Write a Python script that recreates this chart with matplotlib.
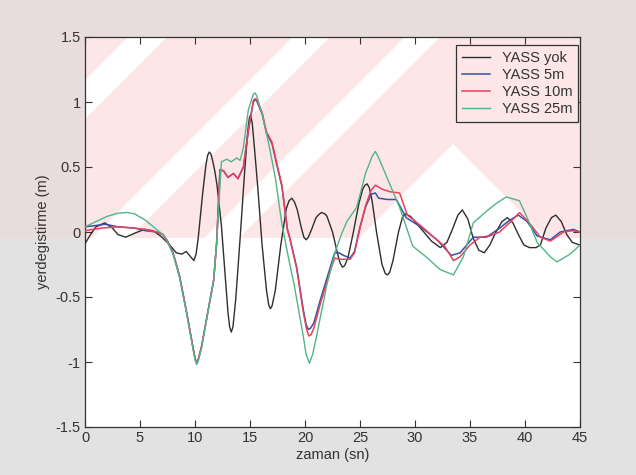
import matplotlib
matplotlib.use("Agg")
import matplotlib.pyplot as plt
from matplotlib.patches import Polygon, Rectangle
from matplotlib.ticker import FixedLocator, FixedFormatter

plt.rcParams['font.family'] = ['Liberation Sans', 'DejaVu Sans']

# ---------------- data ----------------
t_yok = [0, 0.5, 1.0, 1.8, 2.5, 3.0, 3.7, 4.5, 5.4, 6.2, 7.0, 7.7, 8.3, 8.8, 9.2, 9.6, 9.9,
         10.1, 10.3, 10.5, 10.7, 11.0, 11.15, 11.3, 11.45, 11.6, 11.8, 12.0, 12.4, 12.8, 13.0,
         13.15, 13.3, 13.45, 13.7, 14.1, 14.5, 14.8, 14.95, 15.05, 15.2, 15.4, 15.7, 16.1,
         16.5, 16.7, 16.85, 17.0, 17.3, 17.8, 18.3, 18.55, 18.8, 19.05, 19.3, 19.7, 19.9, 20.1,
         20.3, 20.6, 21.0, 21.2, 21.5, 21.8, 22.0, 22.5, 23.0, 23.2, 23.4, 23.6, 23.9, 24.4,
         24.9, 25.25, 25.45, 25.65, 25.85, 26.1, 26.5, 27.0, 27.3, 27.5, 27.7, 28.0, 28.5,
         28.85, 29.1, 29.6, 30.2, 30.8, 31.5, 32.3, 32.9, 33.4, 33.9, 34.3, 34.8, 35.3, 35.8,
         36.3, 36.8, 37.3, 37.9, 38.4, 38.9, 39.4, 39.9, 40.4, 41.0, 41.4, 41.9, 42.4, 42.8,
         43.3, 43.8, 44.3, 45.0]
y_yok = [-0.09, -0.02, 0.04, 0.07, 0.03, -0.02, -0.04, -0.01, 0.02, 0.01, -0.04, -0.10, -0.16,
         -0.17, -0.15, -0.19, -0.22, -0.17, -0.04, 0.13, 0.30, 0.52, 0.59, 0.615, 0.60, 0.55,
         0.47, 0.36, 0.05, -0.40, -0.62, -0.73, -0.77, -0.73, -0.52, -0.05, 0.45, 0.78, 0.88,
         0.90, 0.84, 0.65, 0.35, -0.10, -0.45, -0.56, -0.59, -0.57, -0.45, -0.10, 0.18, 0.24,
         0.26, 0.23, 0.17, 0.02, -0.04, -0.06, -0.04, 0.02, 0.11, 0.13, 0.15, 0.14, 0.12, 0.00,
         -0.18, -0.24, -0.27, -0.26, -0.20, 0.00, 0.22, 0.33, 0.36, 0.37, 0.34, 0.24, 0.00,
         -0.25, -0.32, -0.33, -0.31, -0.22, 0.00, 0.11, 0.14, 0.12, 0.06, 0.00, -0.07, -0.12,
         -0.08, 0.02, 0.13, 0.17, 0.10, -0.05, -0.14, -0.16, -0.10, -0.01, 0.08, 0.11, 0.07,
         -0.02, -0.10, -0.12, -0.12, -0.10, 0.03, 0.11, 0.13, 0.08, -0.02, -0.08, -0.10]

t_5m = [0, 1.0, 1.8, 3.0, 4.5, 5.5, 6.5, 7.1, 7.5, 8.0, 8.6, 9.2, 9.8, 10.0, 10.15, 10.3, 10.6,
        11.2, 11.7, 11.97, 12.27, 12.6, 13.0, 13.5, 13.9, 14.4, 14.85, 15.3, 15.45, 15.6, 16.1,
        16.5, 17.0, 17.4, 17.9, 18.4, 18.6, 19.24, 19.85, 20.1, 20.3, 20.5, 20.8, 21.4, 22.3,
        22.7, 23.1, 23.5, 24.1, 24.5, 25.0, 25.5, 26.0, 26.4, 26.7, 27.5, 28.3, 29.2, 30.5,
        32.0, 33.3, 34.1, 35.3, 36.5, 37.7, 38.6, 39.4, 40.2, 41.1, 42.3, 43.2, 44.4, 45.0]
y_5m = [0.04, 0.05, 0.06, 0.04, 0.03, 0.01, 0.00, -0.02, -0.07, -0.16, -0.34, -0.60, -0.88,
        -0.97, -1.01, -0.98, -0.88, -0.60, -0.37, -0.08, 0.48, 0.47, 0.42, 0.45, 0.41, 0.50,
        0.78, 1.00, 1.015, 1.01, 0.91, 0.76, 0.68, 0.53, 0.35, 0.02, -0.04, -0.27, -0.60,
        -0.71, -0.75, -0.74, -0.70, -0.52, -0.27, -0.16, -0.16, -0.18, -0.20, -0.15, 0.04,
        0.19, 0.29, 0.30, 0.26, 0.25, 0.25, 0.11, 0.04, -0.06, -0.18, -0.16, -0.04, -0.04,
        0.03, 0.09, 0.13, 0.08, -0.03, -0.06, 0.00, 0.02, 0.00]

t_10m = [0, 1.5, 3.0, 4.5, 5.5, 6.5, 7.1, 7.5, 8.0, 8.6, 9.2, 9.8, 10.0, 10.15, 10.3, 10.6,
         11.2, 11.7, 11.97, 12.27, 12.6, 13.0, 13.5, 13.9, 14.4, 14.85, 15.3, 15.45, 15.6,
         16.1, 16.5, 17.0, 17.4, 17.9, 18.4, 18.6, 19.24, 19.85, 20.15, 20.35, 20.55, 20.8,
         21.4, 22.3, 22.7, 23.1, 23.5, 24.1, 24.5, 25.0, 25.5, 26.0, 26.4, 27.0, 27.7, 28.6,
         29.3, 30.5, 31.7, 32.7, 33.5, 34.1, 35.0, 35.9, 36.8, 37.7, 38.7, 39.5, 40.3, 41.4,
         42.3, 43.5, 44.3, 45.0]
y_10m = [0.01, 0.03, 0.04, 0.03, 0.02, 0.00, -0.02, -0.07, -0.16, -0.34, -0.60, -0.88, -0.97,
         -1.01, -0.98, -0.88, -0.60, -0.37, -0.08, 0.48, 0.47, 0.42, 0.45, 0.41, 0.50, 0.78,
         1.01, 1.025, 1.02, 0.92, 0.77, 0.69, 0.54, 0.36, 0.02, -0.04, -0.28, -0.62, -0.75,
         -0.80, -0.79, -0.74, -0.55, -0.30, -0.20, -0.21, -0.21, -0.21, -0.16, 0.03, 0.20,
         0.32, 0.36, 0.33, 0.31, 0.30, 0.13, 0.05, -0.04, -0.11, -0.22, -0.19, -0.10, -0.04,
         -0.03, 0.00, 0.08, 0.15, 0.08, -0.04, -0.07, 0.00, 0.01, 0.00]

t_25m = [0, 1.0, 2.0, 3.0, 3.8, 4.5, 5.5, 6.5, 7.1, 7.5, 8.0, 8.6, 9.2, 9.8, 10.0, 10.15, 10.3,
         10.6, 11.2, 11.7, 11.97, 12.4, 12.9, 13.3, 13.8, 14.1, 14.4, 14.85, 15.3, 15.45, 15.6,
         16.1, 16.7, 17.3, 17.9, 18.5, 19.0, 19.8, 20.1, 20.4, 20.7, 21.1, 22.0, 22.8, 23.3,
         23.8, 24.7, 25.5, 26.1, 26.4, 26.7, 27.4, 28.6, 29.8, 31.0, 32.3, 33.5, 34.4, 35.3,
         36.5, 37.4, 38.3, 39.5, 40.3, 41.1, 42.3, 42.9, 44.1, 45.0]
y_25m = [0.04, 0.08, 0.12, 0.145, 0.15, 0.14, 0.09, 0.02, -0.02, -0.08, -0.17, -0.35, -0.61,
         -0.89, -0.98, -1.02, -0.99, -0.89, -0.60, -0.37, -0.08, 0.54, 0.56, 0.54, 0.57, 0.55,
         0.65, 0.94, 1.06, 1.07, 1.05, 0.91, 0.68, 0.42, 0.06, -0.20, -0.40, -0.78, -0.94,
         -1.01, -0.94, -0.78, -0.40, -0.14, -0.02, 0.08, 0.19, 0.45, 0.58, 0.62, 0.57, 0.43,
         0.19, -0.11, -0.19, -0.29, -0.33, -0.19, 0.07, 0.16, 0.22, 0.27, 0.24, 0.09, -0.08,
         -0.19, -0.23, -0.17, -0.10]

series_labels = ['YASS yok', 'YASS 5m', 'YASS 10m', 'YASS 25m']
xticks = [0, 5, 10, 15, 20, 25, 30, 35, 40, 45]
xtick_labels = ['0', '5', '10', '15', '20', '25', '30', '35', '40', '45']
yticks = [-1.5, -1, -0.5, 0, 0.5, 1, 1.5]
ytick_labels = ['-1.5', '-1', '-0.5', '0', '0.5', '1', '1.5']

# ---------------- figure ----------------
fig = plt.figure(figsize=(6.36, 4.75), dpi=100)
fig.patch.set_facecolor('#e3e2e2')
# pinkish top part of the scanned page
fig.patches.append(Rectangle((0, 0.5), 1, 0.5, transform=fig.transFigure,
                             facecolor='#e8dcdc', edgecolor='none', zorder=-10))

ax = fig.add_axes([85 / 636, 48 / 475, 495 / 636, 390 / 475])
ax.set_facecolor('white')

# watermark: pink band with white diagonal stripes (axes-pixel geometry)
W, H = 495.0, 390.0
def to_ax(pts):
    return [(x / W, 1 - y / H) for x, y in pts]

pink = '#fce6e8'
ax.add_patch(Polygon(to_ax([(0, 0), (W, 0), (W, 201), (0, 201)]), closed=True,
                     transform=ax.transAxes, facecolor=pink, edgecolor='none', zorder=0))
for poly in ([(43, 0), (82, 0), (0, 82), (0, 43)],
             [(208, 0), (245, 0), (44, 201), (7, 201)],
             [(320, 0), (355, 0), (154, 201), (119, 201)],
             [(368, 107), (462, 201), (274, 201)]):
    ax.add_patch(Polygon(to_ax(poly), closed=True, transform=ax.transAxes,
                         facecolor='white', edgecolor='none', zorder=0.5))

colors = ['#2e2e2e', '#34529e', '#e8415e', '#52b584']
ax.plot(t_yok, y_yok, color=colors[0], lw=1.0, label=series_labels[0], zorder=3)
ax.plot(t_5m, y_5m, color=colors[1], lw=1.1, label=series_labels[1], zorder=3)
ax.plot(t_10m, y_10m, color=colors[2], lw=1.1, label=series_labels[2], zorder=3)
ax.plot(t_25m, y_25m, color=colors[3], lw=1.0, label=series_labels[3], zorder=3)

ax.set_xlim(0, 45)
ax.set_ylim(-1.5, 1.5)
ax.xaxis.set_major_locator(FixedLocator(xticks))
ax.xaxis.set_major_formatter(FixedFormatter(xtick_labels))
ax.yaxis.set_major_locator(FixedLocator(yticks))
ax.yaxis.set_major_formatter(FixedFormatter(ytick_labels))
ax.tick_params(direction='in', length=5, width=0.8, top=True, right=True,
               labelsize=10.5, colors='#333333', pad=3)
for s in ax.spines.values():
    s.set_color('#333333')
    s.set_linewidth(0.9)

ax.set_xlabel('zaman (sn)', fontsize=10.5, color='#333333', labelpad=2)
ax.set_ylabel('yerdegistirme (m)', fontsize=10.5, color='#333333', labelpad=4)

leg = ax.legend(loc='upper right', bbox_to_anchor=(0.996, 0.979), borderaxespad=0,
                fontsize=10.5, handlelength=1.9, handletextpad=0.8, labelspacing=0.2,
                borderpad=0.4, fancybox=False, framealpha=1, facecolor=pink,
                edgecolor='#333333')
leg.get_frame().set_linewidth(0.9)
for txt in leg.get_texts():
    txt.set_color('#333333')

fig.savefig('out.png', dpi=100, facecolor=fig.get_facecolor())
